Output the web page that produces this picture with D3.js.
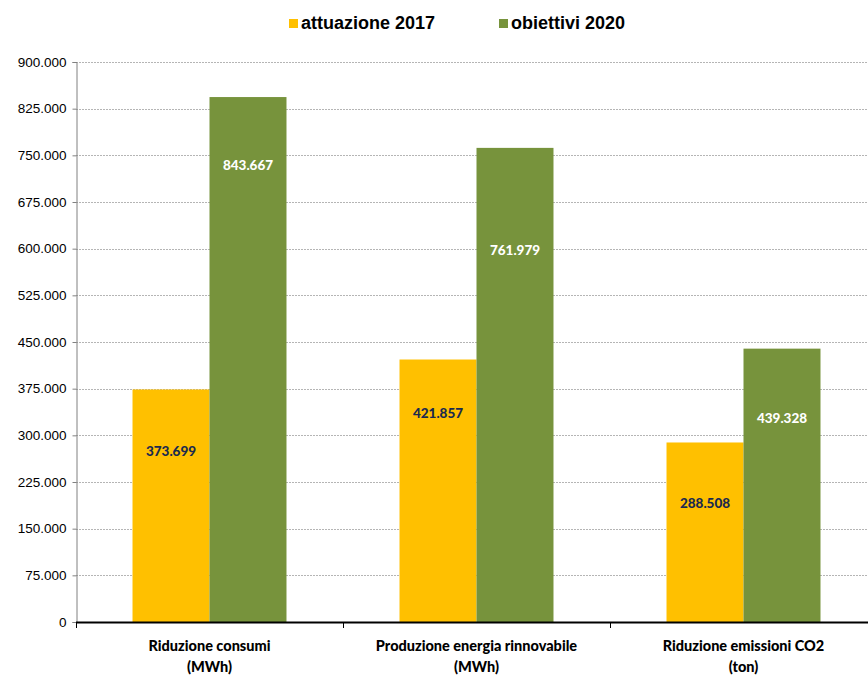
<!DOCTYPE html>
<html lang="it">
<head>
<meta charset="UTF-8">
<title>attuazione 2017 / obiettivi 2020</title>
<script src="https://cdn.jsdelivr.net/npm/d3@7"></script>
<style>
  body { margin: 0; background: #fff; }
  svg { display: block; }
  .cat text { font-family: Lato, "Open Sans", sans-serif; font-weight: 900; font-size: 14.5px; fill: #000; }
  .lbl { font-family: Lato, "Open Sans", sans-serif; font-weight: 900; font-size: 13.5px; }
  .legend text { font-family: "Liberation Sans", Arial, sans-serif; font-weight: bold; font-size: 18px; fill: #000; }
</style>
</head>
<body>
<svg width="868" height="675"></svg>
<script>
// dati
var categories = [
  ["Riduzione consumi", "(MWh)"],
  ["Produzione energia rinnovabile", "(MWh)"],
  ["Riduzione emissioni CO2", "(ton)"]
];
var seriesNames = ["attuazione 2017", "obiettivi 2020"];
var attuazione2017 = [373699, 421857, 288508];
var obiettivi2020 = [843667, 761979, 439328];
// altezza (in valori) a cui stanno le etichette dentro le barre
var labelLevel2017 = [274800, 335900, 191300];
var labelLevel2020 = [734500, 597900, 327900];
var yTicks = [0, 75000, 150000, 225000, 300000, 375000, 450000, 525000, 600000, 675000, 750000, 825000, 900000];

var colors = ["#FFC000", "#77933C"];
var labelColors = ["#1B2A4E", "#FFFFFF"];

var svg = d3.select("svg");
var plotLeft = 76, plotRight = 877, plotTop = 62, plotBottom = 622;

var y = d3.scaleLinear().domain([0, 900000]).range([plotBottom, plotTop]);
var x0 = d3.scaleBand().domain(d3.range(categories.length)).range([plotLeft, plotRight]);
var x1 = d3.scaleBand().domain(d3.range(seriesNames.length))
  .range([0, x0.bandwidth()]).paddingOuter(0.734).paddingInner(0);

var fmt = function (v) { return d3.format(",")(v).replace(/,/g, "."); };

// griglia tratteggiata
svg.append("g")
  .selectAll("line")
  .data(yTicks.slice(1))
  .enter()
  .append("line")
  .attr("x1", plotLeft).attr("x2", 868)
  .attr("y1", function (d) { return Math.round(y(d)) + 0.5; })
  .attr("y2", function (d) { return Math.round(y(d)) + 0.5; })
  .attr("stroke", "#b5b5b5")
  .attr("stroke-width", 1)
  .attr("stroke-dasharray", "2,1");

// asse y
var yAxis = d3.axisLeft(y).tickValues(yTicks).tickSize(4).tickPadding(6)
  .tickFormat(function (d) { return fmt(d); });
var gy = svg.append("g")
  .attr("transform", "translate(" + (plotLeft + 0.5) + ",0)")
  .call(yAxis);
gy.select(".domain").attr("stroke", "#808080");
gy.selectAll(".tick line").attr("stroke", "#808080");
gy.selectAll(".tick text")
  .attr("font-family", "'Liberation Sans', Arial, sans-serif")
  .attr("font-size", 13.5)
  .attr("fill", "#000");

// barre
var rows = categories.map(function (c, i) {
  return [
    { cat: i, s: 0, v: attuazione2017[i], lv: labelLevel2017[i] },
    { cat: i, s: 1, v: obiettivi2020[i], lv: labelLevel2020[i] }
  ];
});

var groups = svg.append("g")
  .selectAll("g")
  .data(rows)
  .enter()
  .append("g")
  .attr("transform", function (d, i) { return "translate(" + x0(i) + ",0)"; });

groups.selectAll("rect")
  .data(function (d) { return d; })
  .enter()
  .append("rect")
  .attr("x", function (d) { return x1(d.s); })
  .attr("width", x1.bandwidth())
  .attr("y", function (d) { return y(d.v); })
  .attr("height", function (d) { return plotBottom - y(d.v); })
  .attr("fill", function (d) { return colors[d.s]; });

groups.selectAll("text")
  .data(function (d) { return d; })
  .enter()
  .append("text")
  .attr("class", "lbl")
  .attr("x", function (d) { return x1(d.s) + x1.bandwidth() / 2; })
  .attr("y", function (d) { return y(d.lv); })
  .attr("dy", "0.35em")
  .attr("text-anchor", "middle")
  .attr("fill", function (d) { return labelColors[d.s]; })
  .text(function (d) { return fmt(d.v); });

// asse x
svg.append("line")
  .attr("x1", plotLeft).attr("x2", 868)
  .attr("y1", plotBottom + 0.5).attr("y2", plotBottom + 0.5)
  .attr("stroke", "#000").attr("stroke-width", 2);

svg.append("g")
  .selectAll("line")
  .data(d3.range(categories.length))
  .enter()
  .append("line")
  .attr("x1", function (d) { return Math.round(x0(d)) + 0.5; })
  .attr("x2", function (d) { return Math.round(x0(d)) + 0.5; })
  .attr("y1", plotBottom).attr("y2", plotBottom + 6)
  .attr("stroke", "#000").attr("stroke-width", 1);

var cat = svg.append("g").attr("class", "cat")
  .selectAll("text")
  .data(categories)
  .enter()
  .append("text")
  .attr("text-anchor", "middle")
  .attr("x", function (d, i) { return x0(i) + x0.bandwidth() / 2; })
  .attr("y", 651);
cat.append("tspan")
  .attr("x", function (d, i) { return x0(i) + x0.bandwidth() / 2; })
  .text(function (d) { return d[0]; });
cat.append("tspan")
  .attr("x", function (d, i) { return x0(i) + x0.bandwidth() / 2; })
  .attr("dy", 21)
  .text(function (d) { return d[1]; });

// legenda
var legendX = [289, 499];
var leg = svg.append("g").attr("class", "legend")
  .selectAll("g")
  .data(seriesNames)
  .enter()
  .append("g")
  .attr("transform", function (d, i) { return "translate(" + legendX[i] + ",0)"; });
leg.append("rect")
  .attr("x", 0).attr("y", 19).attr("width", 9).attr("height", 9)
  .attr("fill", function (d, i) { return colors[i]; });
leg.append("text")
  .attr("x", 12).attr("y", 29)
  .text(function (d) { return d; });
</script>
</body>
</html>
